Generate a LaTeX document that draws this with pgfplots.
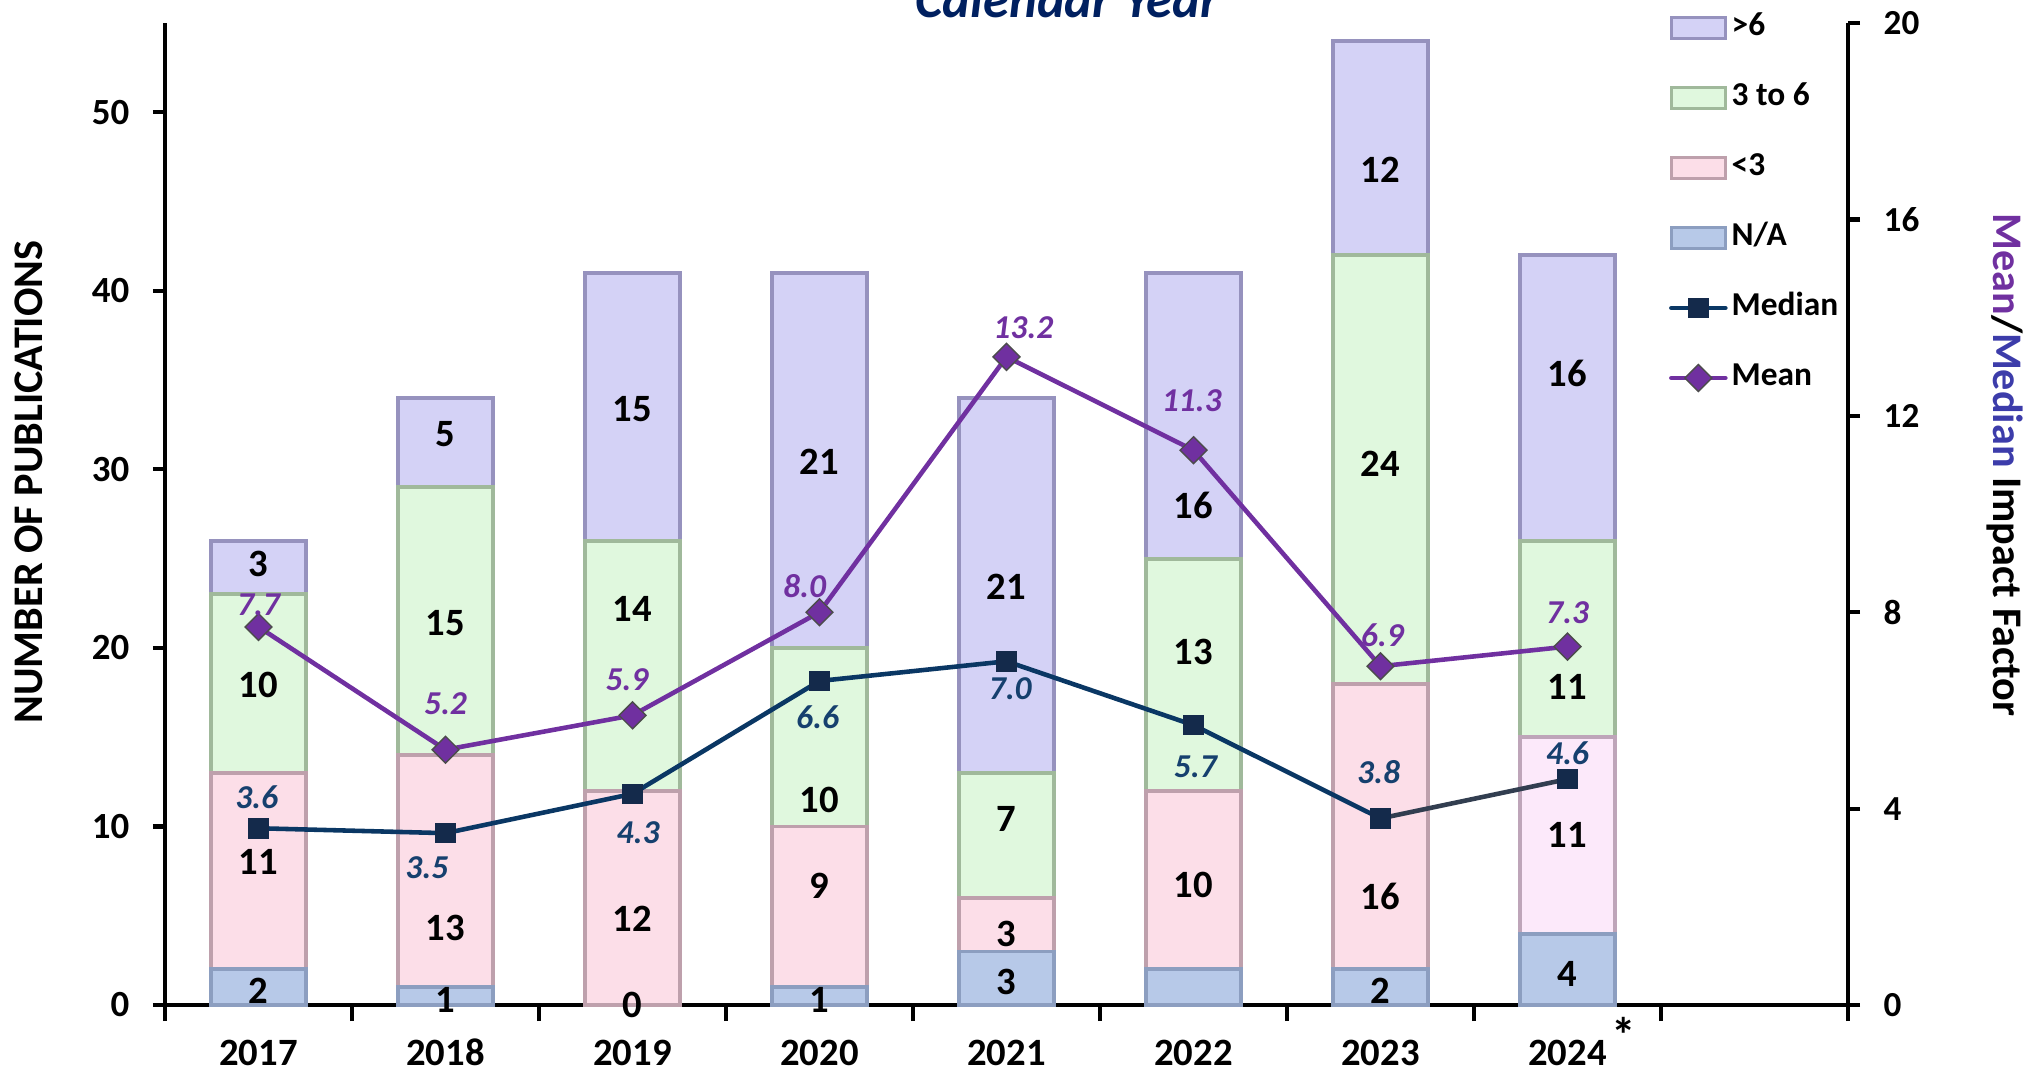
\documentclass[border=0pt]{standalone}
\usepackage{fontspec}
\setmainfont{Carlito}
\usepackage{pgfplots}
\pgfplotsset{compat=1.18}
\definecolor{gtfill}{RGB}{212,210,246}
\definecolor{gtdraw}{RGB}{150,146,190}
\definecolor{midfill}{RGB}{224,248,222}
\definecolor{middraw}{RGB}{160,185,155}
\definecolor{ltfill}{RGB}{252,222,232}
\definecolor{ltdraw}{RGB}{190,160,172}
\definecolor{ltbfill}{RGB}{252,233,250}
\definecolor{ltbdraw}{RGB}{190,165,185}
\definecolor{nafill}{RGB}{183,201,232}
\definecolor{nadraw}{RGB}{140,158,192}
\definecolor{medcol}{RGB}{10,55,100}
\definecolor{medmark}{RGB}{20,42,75}
\definecolor{medlast}{RGB}{50,62,80}
\definecolor{medlab}{RGB}{22,64,110}
\definecolor{meancol}{RGB}{112,48,160}
\definecolor{titlecol}{RGB}{0,32,96}
\definecolor{medaxis}{RGB}{60,60,170}
\pgfplotsset{
  common/.style={
    scale only axis, width=168.3mm, height=98.2mm,
    at={(0,0)}, anchor=south west,
    xmin=-0.5, xmax=8.5,
    clip=false,
  },
  barstyle/.style={fill=#1fill, draw=#1draw, line width=1.1pt},
  barleg/.style={legend image code/.code={\draw[##1] (0mm,-1.05mm) rectangle (5.4mm,1.05mm);}},
  lineleg/.style={legend image code/.code={\draw[mark repeat=2,mark phase=2,##1] plot coordinates {(0mm,0mm)(2.7mm,0mm)(5.4mm,0mm)};}},
}
\begin{document}
\begin{tikzpicture}
% ---------- bars (left axis) ----------
\begin{axis}[common,
  ymin=0, ymax=55,
  ybar stacked, bar width=9.5mm,
  axis x line*=bottom, axis y line*=left,
  axis line style={line width=1.4pt, -},
  tick align=outside,
  major tick length=1.2mm, minor tick length=1.6mm,
  tick style={line width=1.2pt, black},
  xtick={0,...,7},
  xticklabels={2017,2018,2019,2020,2021,2022,2023,{2024\rlap{\hspace{0.5mm}\raisebox{1.3mm}{\fontsize{14}{14}\selectfont *}}}},
  major x tick style={draw=none},
  minor xtick={-0.5,0.5,...,8.5},
  ytick={0,10,...,50},
  /pgf/number format/assume math mode=true,
  yticklabel style={font=\bfseries\fontsize{10.5}{12}\selectfont, inner sep=0pt, xshift=-2.3mm},
  xticklabel style={font=\bfseries\fontsize{11}{12}\selectfont, inner sep=0pt, text height=2.6mm, text depth=0pt, anchor=north, yshift=-2.2mm},
  every axis y label/.style={at={(axis description cs:-0.0808,0.5326)}, rotate=90, anchor=center},
  ylabel={\bfseries\fontsize{12}{14}\selectfont NUMBER OF PUBLICATIONS},
]
\addplot[barstyle=na] coordinates {(0,2)(1,1)(2,0)(3,1)(4,3)(5,2)(6,2)(7,4)};
\addplot[barstyle=lt] coordinates {(0,11)(1,13)(2,12)(3,9)(4,3)(5,10)(6,16)(7,0)};
\addplot[barstyle=ltb] coordinates {(0,0)(1,0)(2,0)(3,0)(4,0)(5,0)(6,0)(7,11)};
\addplot[barstyle=mid] coordinates {(0,10)(1,15)(2,14)(3,10)(4,7)(5,13)(6,24)(7,11)};
\addplot[barstyle=gt] coordinates {(0,3)(1,5)(2,15)(3,21)(4,21)(5,16)(6,12)(7,16)};
\end{axis}
% ---------- bar value labels ----------
\begin{axis}[common, ymin=0, ymax=55, axis lines=none]
\addplot[draw=none, mark=none, nodes near coords, point meta=explicit symbolic,
  every node near coord/.append style={anchor=center, font=\bfseries\fontsize{11}{12}\selectfont, text=black}]
  table[meta=lab] {
x y lab
0 0.8 2
0 8.0 11
0 17.9 10
0 24.7 3
1 0.3 1
1 4.3 13
1 21.4 15
1 32.0 5
2 0.0 0
2 4.8 12
2 22.2 14
2 33.4 15
3 0.3 1
3 6.7 9
3 11.5 10
3 30.4 21
4 1.3 3
4 4.0 3
4 10.4 7
4 23.4 21
5 6.7 10
5 19.8 13
5 28.0 16
6 0.8 2
6 6.1 16
6 30.3 24
6 46.8 12
7 1.75 4
7 9.5 11
7 17.8 11
7 35.4 16
};
\end{axis}
% ---------- lines (right axis) ----------
\begin{axis}[common,
  ymin=0, ymax=20,
  axis x line=none, axis y line*=right,
  axis line style={line width=1.4pt, -},
  tick align=outside, major tick length=1.2mm,
  tick style={line width=1.2pt, black},
  ytick={0,4,...,20},
  /pgf/number format/assume math mode=true,
  yticklabel style={font=\bfseries\fontsize{10}{12}\selectfont, inner sep=0pt, xshift=2.3mm},
  every axis y label/.style={at={(axis description cs:1.0933,0.5499)}, rotate=-90, anchor=center},
  ylabel={\bfseries\fontsize{12}{14}\selectfont\textcolor{meancol}{Mean}/\textcolor{medaxis}{Median} Impact Factor},
  legend style={draw=none, fill=none, at={(0.8937,1.0102)}, anchor=north west,
    inner sep=0pt, outer sep=0pt, row sep=4mm, column sep=0.4mm,
    font=\bfseries\fontsize{9.5}{11}\selectfont,
    nodes={inner sep=0pt, text height=2.2mm, text depth=0.8mm}},
  legend cell align=left,
]
\addplot[forget plot, color=medcol, line width=1.3pt, mark=square*, mark size=0.8mm,
  mark options={fill=medmark, draw=medmark}]
  coordinates {(0,3.6)(1,3.5)(2,4.3)(3,6.6)(4,7.0)(5,5.7)(6,3.8)};
\addplot[forget plot, color=medlast, line width=1.3pt, mark=square*, mark size=0.8mm,
  mark options={fill=medmark, draw=medmark}]
  coordinates {(6,3.8)(7,4.6)};
\addplot[forget plot, color=meancol, line width=1.3pt, mark=square*, mark size=0.95mm,
  mark options={rotate=45, fill=meancol, draw=black!70, line width=0.4pt}]
  coordinates {(0,7.7)(1,5.2)(2,5.9)(3,8.0)(4,13.2)(5,11.3)(6,6.9)(7,7.3)};
% line value labels
\addplot[forget plot, draw=none, mark=none, nodes near coords, point meta=explicit symbolic,
  every node near coord/.append style={anchor=center, font=\bfseries\itshape\fontsize{9.5}{11}\selectfont, text=meancol}]
  table[meta=lab] {
x y lab
0 8.15 7.7
1 6.13 5.2
1.97 6.63 5.9
2.92 8.54 8.0
4.09 13.8 13.2
4.99 12.3 11.3
6.01 7.53 6.9
7 7.99 7.3
};
\addplot[forget plot, draw=none, mark=none, nodes near coords, point meta=explicit symbolic,
  every node near coord/.append style={anchor=center, font=\bfseries\itshape\fontsize{9.5}{11}\selectfont, text=medlab}]
  table[meta=lab] {
x y lab
-0.01 4.24 3.6
0.9 2.79 3.5
2.03 3.50 4.3
2.99 5.86 6.6
4.02 6.45 7.0
5.01 4.85 5.7
5.99 4.75 3.8
7 5.12 4.6
};
% legend
\addlegendimage{barleg, fill=gtfill, draw=gtdraw, line width=0.9pt}
\addlegendentry{>6}
\addlegendimage{barleg, fill=midfill, draw=middraw, line width=0.9pt}
\addlegendentry{3 to 6}
\addlegendimage{barleg, fill=ltfill, draw=ltdraw, line width=0.9pt}
\addlegendentry{<3}
\addlegendimage{barleg, fill=nafill, draw=nadraw, line width=0.9pt}
\addlegendentry{N/A}
\addlegendimage{lineleg, color=medcol, line width=1.3pt, line cap=round, mark=square*, mark size=0.8mm,
  mark options={fill=medmark, draw=medmark}}
\addlegendentry{Median}
\addlegendimage{lineleg, color=meancol, line width=1.3pt, line cap=round, mark=square*, mark size=0.95mm,
  mark options={rotate=45, fill=meancol, draw=black!70, line width=0.4pt}}
\addlegendentry{Mean}
\end{axis}
\node[anchor=base, font=\bfseries\itshape\fontsize{15}{18}\selectfont, text=titlecol] at (90.2mm,98.7mm) {Calendar Year};
\pgfresetboundingbox
\useasboundingbox (-16.5mm,-6.8mm) rectangle (187.6mm,100.5mm);
\end{tikzpicture}
\end{document}
